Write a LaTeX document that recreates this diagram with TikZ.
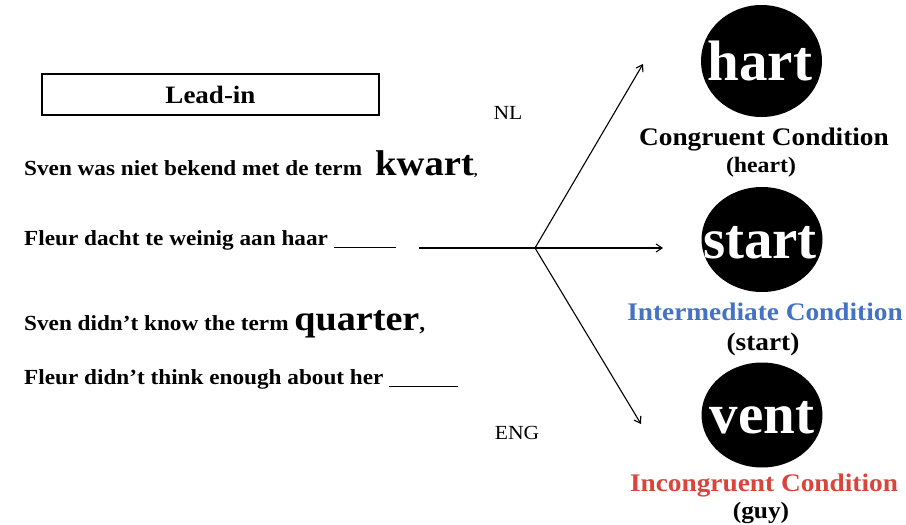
\documentclass[tikz,border=0pt]{standalone}
\usepackage{fontspec}
\setmainfont[FakeStretch=1.08]{Liberation Serif}
\newfontfamily\discfont{Liberation Serif}
\usetikzlibrary{arrows.meta,shapes.geometric}
\definecolor{condblue}{HTML}{4472C4}
\definecolor{condred}{HTML}{D9453B}
\tikzset{
  sent/.style={anchor=base west, inner sep=0pt, font=\fontsize{21.5}{24}\selectfont\bfseries},
  lang/.style={anchor=base, inner sep=0pt, font=\fontsize{20}{22}\selectfont},
  cond/.style={anchor=base, inner sep=0pt, font=\fontsize{25.3}{28}\selectfont\bfseries},
  disc/.style={ellipse, fill=black, minimum width=121pt, inner sep=0pt},
  word/.style={anchor=base, inner sep=0pt, text=white, font=\discfont\fontsize{57}{60}\selectfont\bfseries},
  arr/.style={line width=1.1pt, -{Straight Barb[length=6pt,width=8pt]}},
}
\newcommand{\blankline}[1]{\rule[-3pt]{#1}{1.1pt}}
\begin{document}
\begin{tikzpicture}[x=1pt,y=-1pt]
\useasboundingbox (0,0) rectangle (906,525);
\node[draw, line width=1.2pt, minimum width=337pt, minimum height=41pt, inner sep=0pt,
  font=\fontsize{25}{28}\selectfont\bfseries] (lead) at (210.5,94.5) {Lead-in};

\node[sent] (s1) at (24,175) {Sven was niet bekend met de term\,\, {\fontsize{35.8}{38}\selectfont kwart}{\fontsize{14}{16}\selectfont,}};
\node[sent] (s2) at (24,245) {Fleur dacht te weinig aan haar \blankline{62pt}};
\node[sent] (s3) at (24,330) {Sven didn’t know the term {\fontsize{35.3}{38}\selectfont quarter},};
\node[sent] (s4) at (24,384) {Fleur didn’t think enough about her \blankline{69pt}};

\node[lang] (nl) at (508,119) {NL};
\node[lang] (eng) at (517,439) {ENG};

\node[disc, minimum height=112pt] (hartc) at (761.5,61) {};
\node[disc, minimum height=105pt] (startc) at (762,239.5) {};
\node[disc, minimum height=105pt] (ventc) at (762,415) {};
\node[word] (hart) at (760,80) {hart};
\node[word] (start) at (760,258) {start};
\node[word] (vent) at (762,433) {vent};

\node[cond] (c1) at (764,145) {Congruent Condition};
\node[cond, font=\fontsize{22}{24}\selectfont\bfseries] (c1b) at (761,172) {(heart)};
\node[cond, text=condblue] (c2) at (765,320) {Intermediate Condition};
\node[cond] (c2b) at (763,350) {(start)};
\node[cond, text=condred] (c3) at (764,491) {Incongruent Condition};
\node[cond, font=\fontsize{23.5}{26}\selectfont\bfseries] (c3b) at (761,518) {(guy)};

\coordinate (from) at (419,248);
\coordinate (branch) at (535,248);
\coordinate (tA) at (643,64);
\coordinate (tB) at (663,248);
\coordinate (tC) at (641,424);
\draw[line width=1.1pt] (from) -- (branch);
\draw[arr] (branch) -- (tA);
\draw[arr] (branch) -- (tB);
\draw[arr] (branch) -- (tC);
\end{tikzpicture}
\end{document}
